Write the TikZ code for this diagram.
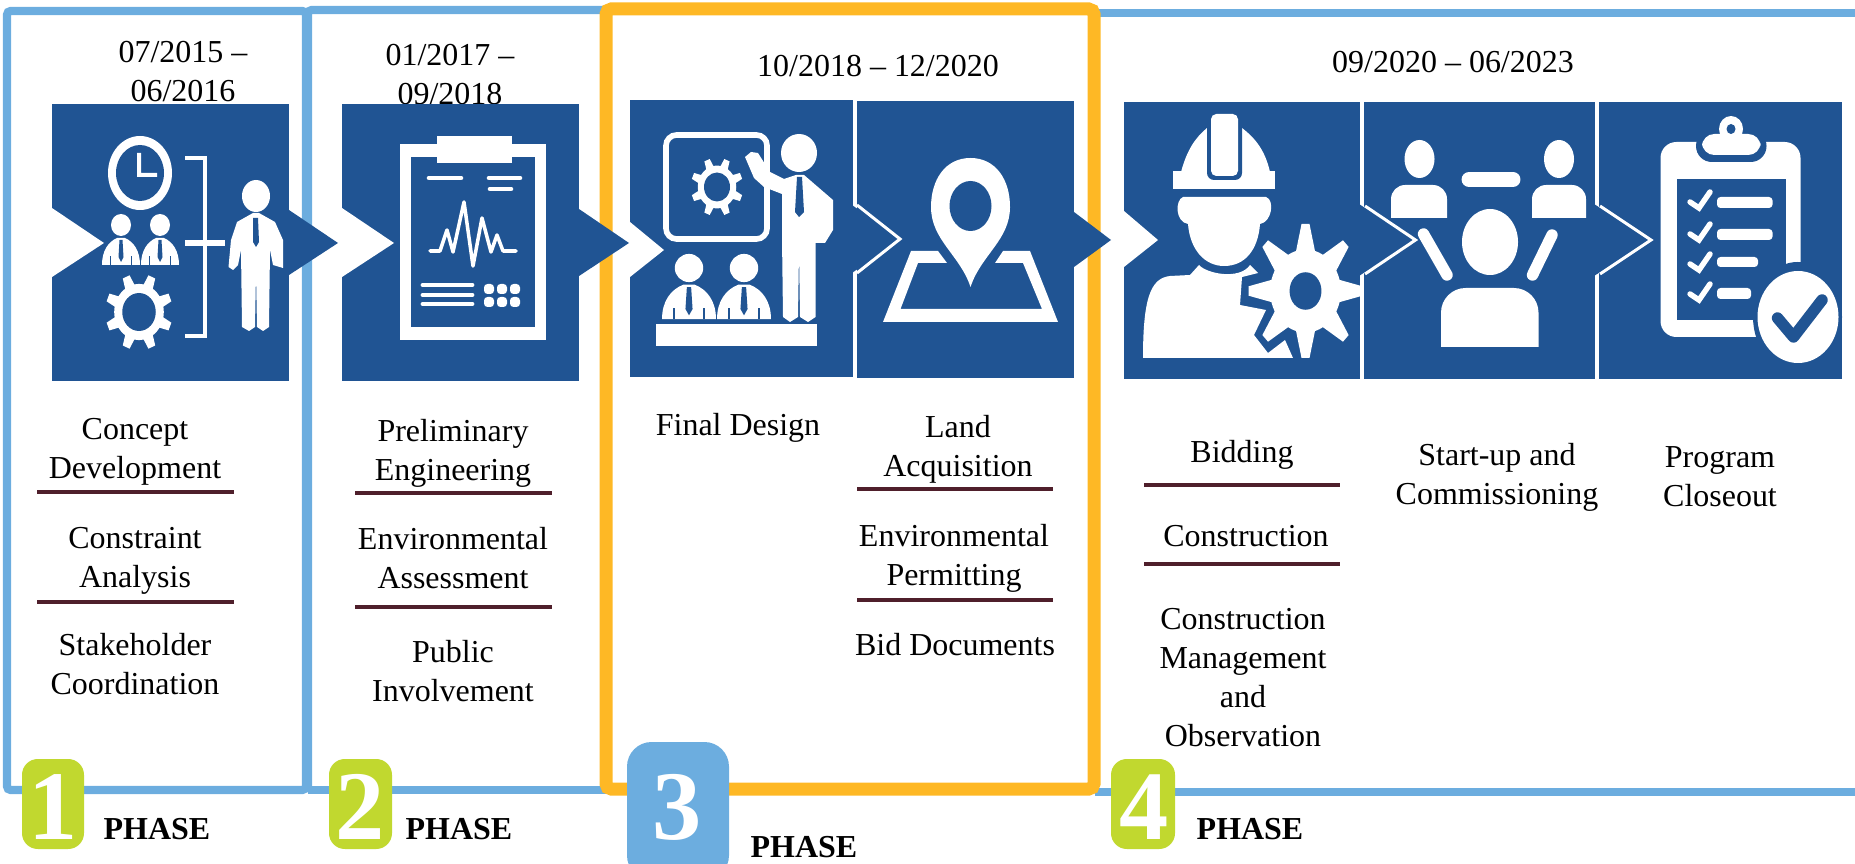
\documentclass[tikz,border=0pt]{standalone}
\usepackage{fontspec}
\setmainfont{Liberation Serif}

\definecolor{tileblue}{HTML}{205493}
\definecolor{framblue}{HTML}{6CADDF}
\definecolor{framorange}{HTML}{FEB825}
\definecolor{badgelime}{HTML}{C1D82F}
\definecolor{rulemaroon}{HTML}{4F1F2B}

\tikzset{
    phaseframe/.style={draw=framblue, line width=4.6pt, rounded corners=2},
    tile/.style={fill=tileblue},
    icon/.style={fill=white},
    cutout/.style={fill=tileblue},
    label/.style={align=center, inner sep=0pt, font=\fontsize{18.2}{22.2}\selectfont},
    sepline/.style={draw=rulemaroon, line width=2.7pt},
    badge/.style={rounded corners=9},
    digit/.style={inner sep=0pt, text=white, font=\fontsize{56}{56}\selectfont\bfseries},
    phasetag/.style={inner sep=0pt, font=\fontsize{18.2}{22}\selectfont\bfseries}
}

% roue dentee : centre, rayons, decalage, corps, base et bout de dent, trou
\newcommand{\gearwheel}[8]{
    \begin{scope}[shift={#1}, xscale=#2, yscale=#3]
        \fill[icon] (0,0) circle (#5);
        \foreach \k in {0,...,7}
            \fill[icon, rotate={\k*45+#4}] (#5-4,-#6) -- (100,-#7) -- (100,#7) -- (#5-4,#6) -- cycle;
        \fill[cutout] (0,0) circle (#8);
    \end{scope}
}

% personnage assis : tete, echelle x, echelle y
\newcommand{\seatedman}[3]{
    \begin{scope}[shift={#1}, xscale=#2, yscale=#3]
        \fill[icon] (0,0) ellipse [x radius=10, y radius=11];
        \fill[icon] (-19,40) .. controls (-19,26) and (-13,17) .. (-4,13) -- (4,13)
            .. controls (13,17) and (19,26) .. (19,40) -- cycle;
        \fill[cutout] (-1.5,15) -- (1.5,15) -- (2.5,32) -- (0,37) -- (-2.5,32) -- cycle;
        \fill[cutout] (-11,31) rectangle (-10.2,40);
        \fill[cutout] (10.2,31) rectangle (11,40);
    \end{scope}
}

\begin{document}
\begin{tikzpicture}[x=0.02cm, y=-0.02cm]
        \clip[use as bounding box] (0,0) rectangle (1855,864);

        % Cadres des phases
        \draw[phaseframe] (7,790) rectangle (306,11);
        \draw[phaseframe] (308,790) -- (308,10) -- (610,10);
        \draw[phaseframe] (308,790) -- (610,790);
        \draw[phaseframe] (1095,13) -- (1870,13);
        \draw[phaseframe] (1095,792) -- (1870,792);
        \draw[draw=framorange, line width=7.4pt, rounded corners=3] (606,9) rectangle (1094,789);

        % Dates
        \node[label] (date1) at (183,72) {07/2015 –\\06/2016};
        \node[label] (date2) at (450,75) {01/2017 –\\09/2018};
        \node[label] (date3) at (878,66) {10/2018 – 12/2020};
        \node[label] (date4) at (1453,62) {09/2020 – 06/2023};

        % Tuiles
        \fill[tile] (52,104) rectangle (289,381);
        \fill[tile] (342,104) rectangle (579,381);
        \fill[tile] (630,100) rectangle (853,377);
        \fill[tile] (857,101) rectangle (1074,378);
        \fill[tile] (1124,102) rectangle (1360,379);
        \fill[tile] (1364,102) rectangle (1595,379);
        \fill[tile] (1599,102) rectangle (1842,379);

        % Encoches blanches
        \fill[white] (52,208) -- (104,243) -- (52,277) -- cycle;
        \fill[white] (342,208) -- (394,243) -- (342,277) -- cycle;
        \fill[white] (630,222) -- (664,250) -- (630,277) -- cycle;
        \fill[white] (1124,211) -- (1158,240) -- (1124,267) -- cycle;

        % Fleches bleues
        \fill[tile] (289,210) -- (338,243) -- (289,275) -- cycle;
        \fill[tile] (579,209) -- (629,243) -- (579,276) -- cycle;
        \fill[tile] (1074,212) -- (1111,240) -- (1074,267) -- cycle;

        % Chevrons entre tuiles
        \fill[tile] (852,205) -- (899,239) -- (852,273) -- cycle;
        \draw[white, line width=1.7pt] (857,205) -- (900,239) -- (857,273);
        \fill[tile] (1359,204) -- (1414,240) -- (1359,276) -- cycle;
        \draw[white, line width=1.7pt] (1365,206) -- (1415.5,240) -- (1365,274);
        \fill[tile] (1594,204) -- (1650,240) -- (1594,276) -- cycle;
        \draw[white, line width=1.7pt] (1600,206) -- (1651,240) -- (1600,274);

        % Icone 1
        \fill[icon] (140,173) ellipse [x radius=32, y radius=37];
        \fill[cutout] (140,173) ellipse [x radius=24, y radius=28];
        \fill[icon] (137,153) -- (141,153) -- (141,173) -- (157,173) -- (157,177) -- (137,177) -- cycle;
        \seatedman{(121,225)}{1}{1}
        \seatedman{(160,225)}{1}{1}
        \gearwheel{(139,312)}{0.335}{0.38}{22.5}{74}{15}{11}{50}
        \draw[white, line width=2.6pt] (185,158) -- (205,158) -- (205,336) -- (185,336);
        \draw[white, line width=3.4pt] (185,243) -- (225,243);
        \fill[icon] (256,196) ellipse [x radius=14, y radius=16];
        \fill[icon] (253,213) -- (237,222) -- (231,240) -- (228.5,267) -- (233,270) -- (238,265) -- (241,250)
            -- (242,327) -- (249,331) -- (255,327) -- (256,273) -- (257,327) -- (263,331) -- (269,327)
            -- (270,250) -- (273,265) -- (283,268) -- (283,240) -- (275,222) -- (259,213) -- cycle;
        \fill[cutout] (253,218) -- (258,218) -- (259,242) -- (256,247) -- (253,242) -- cycle;

        % Icone 2
        \fill[icon] (400,144) rectangle (546,340);
        \fill[cutout] (411,157) rectangle (535,327);
        \fill[icon] (437,136) rectangle (512,163);
        \draw[white, line width=2.6pt, line cap=round] (429,178) -- (461,178);
        \draw[white, line width=2.6pt, line cap=round] (489,178) -- (520,178);
        \draw[white, line width=2.6pt, line cap=round] (490,189) -- (511,189);
        \draw[white, line width=2pt, line cap=round, line join=round] (430,251) -- (440,251) -- (447,230) -- (453,252)
            -- (464,202) -- (473,266) -- (482,218) -- (491,252) -- (497,235) -- (503,251) -- (516,251);
        \draw[white, line width=2.8pt, line cap=round] (423,285) -- (472,285);
        \draw[white, line width=2.8pt, line cap=round] (423,295) -- (472,295);
        \draw[white, line width=2.8pt, line cap=round] (423,304) -- (472,304);
        \fill[icon, rounded corners=2] (484,284) rectangle (494,294);
        \fill[icon, rounded corners=2] (497,284) rectangle (507,294);
        \fill[icon, rounded corners=2] (510,284) rectangle (520,294);
        \fill[icon, rounded corners=2] (484,297) rectangle (494,307);
        \fill[icon, rounded corners=2] (497,297) rectangle (507,307);
        \fill[icon, rounded corners=2] (510,297) rectangle (520,307);

        % Icone 3
        \draw[white, line width=3.2pt, rounded corners=6] (666,135) rectangle (767,239);
        \gearwheel{(717,187)}{0.26}{0.29}{22.5}{74}{15}{11}{50}
        \fill[icon] (799,153) ellipse [x radius=18, y radius=19];
        \fill[icon] (796,175) -- (784,179) -- (770,172) -- (758,153) -- (751,152) -- (745,157) -- (754,178)
            -- (764,187) -- (782,194) -- (782,238) -- (783,317) -- (790,322) -- (798,317) -- (799,251)
            -- (800,317) -- (808,322) -- (815.5,317) -- (815.5,243) -- (825,243) -- (833,230) -- (833,200)
            -- (804,175) -- cycle;
        \fill[cutout] (797,177) -- (802,177) -- (804,212) -- (799,217) -- (795,212) -- cycle;
        \seatedman{(689,268)}{1.42}{1.28}
        \seatedman{(744,268)}{1.42}{1.28}
        \fill[icon] (656,324) rectangle (817,346);

        % Icone 4
        \fill[icon] (970.5,158) .. controls (945,158) and (931,180) .. (931,207)
            .. controls (931,240) and (960,255) .. (970.5,287)
            .. controls (981,255) and (1010,240) .. (1010,207)
            .. controls (1010,180) and (996,158) .. (970.5,158) -- cycle;
        \fill[cutout] (970.5,206) ellipse [x radius=21, y radius=25];
        \fill[icon] (883,322) -- (1058,322) -- (1030,251) -- (1003,251) -- (995,263) -- (1023,263) -- (1042,309)
            -- (900.5,309) -- (918,263) -- (947,263) -- (938,251) -- (911,251) -- cycle;

        % Icone 5
        \fill[icon] (1181,172) .. controls (1187,150) and (1195,138) .. (1207,128) -- (1242,128)
            .. controls (1255,138) and (1265,150) .. (1270,172) -- cycle;
        \fill[icon] (1173,171) rectangle (1275,189);
        \fill[cutout, rounded corners=4] (1207,110) rectangle (1242,180);
        \fill[icon, rounded corners=3] (1211,114) rectangle (1238,176);
        \fill[icon] (1183,197) .. controls (1175,200) and (1175,222) .. (1188,224)
            .. controls (1190,250) and (1205,266) .. (1224,266)
            .. controls (1245,266) and (1258,250) .. (1260,224)
            .. controls (1272,222) and (1275,200) .. (1266,197) -- cycle;
        \fill[icon] (1143,358) .. controls (1143,300) and (1150,278) .. (1170,276) -- (1190,275) -- (1199,265)
            .. controls (1207,274) and (1240,280) .. (1250,265) -- (1258,273) -- (1242,277) -- (1240,305)
            -- (1266,310) -- (1254,335) -- (1268,353) -- (1285,340) -- (1293,358) -- cycle;
        \gearwheel{(1305.5,291)}{0.57}{0.67}{0}{62}{17}{7}{28}

        % Icone 6
        \fill[icon] (1419.5,159) ellipse [x radius=15, y radius=19];
        \fill[icon] (1559,159) ellipse [x radius=15, y radius=19];
        \fill[icon] (1391,218) [rounded corners=8] -- (1391,185) -- (1447,185) [sharp corners] -- (1447,218) -- cycle;
        \fill[icon] (1532,218) [rounded corners=8] -- (1532,185) -- (1586,185) [sharp corners] -- (1586,218) -- cycle;
        \draw[white, line width=8.5pt, line cap=round] (1469,179.5) -- (1513,179.5);
        \fill[icon] (1490,242) ellipse [x radius=28, y radius=33];
        \fill[icon] (1441,347) [rounded corners=14] -- (1441,288) -- (1538.5,288) [sharp corners] -- (1538.5,347) -- cycle;
        \draw[white, line width=6.5pt, line cap=round] (1423.5,234) -- (1447,275);
        \draw[white, line width=6.5pt, line cap=round] (1552,235) -- (1532.5,275);

        % Icone 7
        \fill[icon, rounded corners=9] (1660.5,142) rectangle (1800.5,337);
        \fill[cutout] (1676.5,179) rectangle (1786,320);
        \fill[cutout, rounded corners=9] (1696,130) rectangle (1766.5,162);
        \fill[icon] (1731,129) ellipse [x radius=12, y radius=13];
        \fill[icon, rounded corners=7] (1702,134) rectangle (1760.5,155);
        \fill[cutout] (1731,129) ellipse [x radius=4.5, y radius=5];
        \draw[white, line width=3.1pt, line cap=round] (1690,202) -- (1699,208) -- (1710,192);
        \draw[white, line width=3.1pt, line cap=round] (1690,234) -- (1699,240) -- (1710,224);
        \draw[white, line width=3.1pt, line cap=round] (1690,264) -- (1699,270) -- (1710,254);
        \draw[white, line width=3.1pt, line cap=round] (1690,294) -- (1699,300) -- (1710,284);
        \fill[icon, rounded corners=2] (1717,197) rectangle (1772.5,208);
        \fill[icon, rounded corners=2] (1717,229) rectangle (1772.5,240);
        \fill[icon, rounded corners=2] (1717,257) rectangle (1758,267);
        \fill[icon, rounded corners=2] (1717,288) rectangle (1751,299);
        \fill[cutout] (1797.5,317) ellipse [x radius=44.5, y radius=55];
        \fill[icon] (1798,317) ellipse [x radius=40.5, y radius=46];
        \draw[tileblue, line width=6.5pt, line cap=round, line join=round] (1777.5,318) -- (1793.5,337) -- (1822,300);

        % Phase 1
        \node[label] (concept) at (135,452) {Concept\\Development};
        \draw[sepline] (37,492) -- (234,492);
        \node[label] (constraint) at (135,561) {Constraint\\Analysis};
        \draw[sepline] (37,602) -- (234,602);
        \node[label] (stakeholder) at (135,664) {Stakeholder\\Coordination};

        % Phase 2
        \node[label] (prelim) at (453,453) {Preliminary\\Engineering};
        \draw[sepline] (355,493) -- (552,493);
        \node[label] (envassess) at (453,558) {Environmental\\Assessment};
        \draw[sepline] (355,607) -- (552,607);
        \node[label] (public) at (453,671) {Public\\Involvement};

        % Phase 3
        \node[label] (finaldesign) at (738,428) {Final Design};
        \node[label] (land) at (958,449) {Land\\Acquisition};
        \draw[sepline] (857,489) -- (1053,489);
        \node[label] (envpermit) at (954,558) {Environmental\\Permitting};
        \draw[sepline] (857,600) -- (1053,600);
        \node[label] (biddocs) at (955,645) {Bid Documents};

        % Phase 4
        \node[label] (bidding) at (1242,455) {Bidding};
        \draw[sepline] (1144,485) -- (1340,485);
        \node[label] (construction) at (1246,536) {Construction};
        \draw[sepline] (1144,564) -- (1340,564);
        \node[label] (cmo) at (1243,678) {Construction\\Management\\and\\Observation};
        \node[label] (startup) at (1497,477) {Start-up and\\Commissioning};
        \node[label] (closeout) at (1720,477) {Program\\Closeout};

        % Pastilles
        \fill[badgelime, badge] (22,759) rectangle (84,849);
        \node[digit] (num1) at (53,807) {1};
        \node[phasetag] (tag1) at (157,829) {PHASE};
        \fill[badgelime, badge] (329,759) rectangle (392,849);
        \node[digit] (num2) at (360,807) {2};
        \node[phasetag] (tag2) at (459,829) {PHASE};
        \fill[framblue, rounded corners=14] (627,742) rectangle (729,880);
        \node[digit] (num3) at (677,807) {3};
        \node[phasetag] (tag3) at (804,847) {PHASE};
        \fill[badgelime, badge] (1111,759) rectangle (1175,849);
        \node[digit] (num4) at (1144,807) {4};
        \node[phasetag] (tag4) at (1250,829) {PHASE};
    \end{tikzpicture}
\end{document}
